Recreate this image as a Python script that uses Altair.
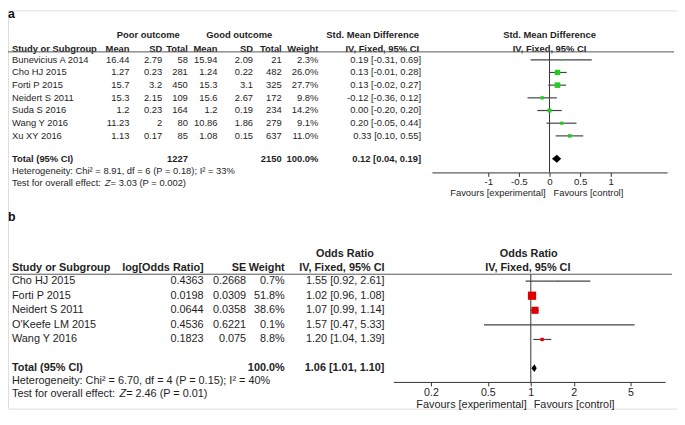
import altair as alt
import pandas as pd

FONT = "Liberation Sans, Arial, Helvetica, sans-serif"
TXT = "#1e1e1e"

# ---------------- Panel a data ----------------
a_study = ["Bunevicius A 2014", "Cho HJ 2015", "Forti P 2015", "Neidert S 2011",
           "Suda S 2016", "Wang Y 2016", "Xu XY 2016"]
a_poor_mean = [16.44, 1.27, 15.7, 15.3, 1.2, 11.23, 1.13]
a_poor_sd = [2.79, 0.23, 3.2, 2.15, 0.23, 2, 0.17]
a_poor_total = [58, 281, 450, 109, 164, 80, 85]
a_good_mean = [15.94, 1.24, 15.3, 15.6, 1.2, 10.86, 1.08]
a_good_sd = [2.09, 0.22, 3.1, 2.67, 0.19, 1.86, 0.15]
a_good_total = [21, 482, 325, 172, 234, 279, 637]
a_weight = [2.3, 26.0, 27.7, 9.8, 14.2, 9.1, 11.0]
a_smd = [0.19, 0.13, 0.13, -0.12, 0.00, 0.20, 0.33]
a_lo = [-0.31, -0.01, -0.02, -0.36, -0.20, -0.05, 0.10]
a_hi = [0.69, 0.28, 0.27, 0.12, 0.20, 0.44, 0.55]
a_totals = [1227, 2150]
a_total_ci = [0.12, 0.04, 0.19]
a_het = "Heterogeneity: Chi\u00b2 = 8.91, df = 6 (P = 0.18); I\u00b2 = 33%"
a_test = ["Test for overall effect: ", "Z", " = 3.03 (P = 0.002)"]
a_ticks = [-1, -0.5, 0, 0.5, 1]

# ---------------- Panel b data ----------------
b_study = ["Cho HJ 2015", "Forti P 2015", "Neidert S 2011", "O'Keefe LM 2015", "Wang Y 2016"]
b_logor = ["0.4363", "0.0198", "0.0644", "0.4536", "0.1823"]
b_se = ["0.2668", "0.0309", "0.0358", "0.6221", "0.075"]
b_weight = [0.7, 51.8, 38.6, 0.1, 8.8]
b_or = [1.55, 1.02, 1.07, 1.57, 1.20]
b_lo = [0.92, 0.96, 0.99, 0.47, 1.04]
b_hi = [2.61, 1.08, 1.14, 5.33, 1.39]
b_total_ci = [1.06, 1.01, 1.10]
b_het = "Heterogeneity: Chi\u00b2 = 6.70, df = 4 (P = 0.15); I\u00b2 = 40%"
b_test = ["Test for overall effect: ", "Z", " = 2.46 (P = 0.01)"]
b_ticks = [0.2, 0.5, 1, 2, 5]

# ---------------- layout (styles) ----------------
W, H = 677, 403
ONE = pd.DataFrame({"_": [0]})


def label(txt, x, y, size, align="left", weight="normal", style="normal", color=TXT):
    return alt.Chart(ONE).mark_text(
        text=txt, align=align, baseline="middle", font=FONT, fontSize=size,
        fontWeight=weight, fontStyle=style, color=color
    ).encode(x=alt.value(x), y=alt.value(y))


def hline(x1, x2, y):
    return alt.Chart(ONE).mark_rule(color="#555555", strokeWidth=1).encode(
        x=alt.value(x1), x2=alt.value(x2), y=alt.value(y))


def ci_str(e, l, h):
    return f"{e:.2f} [{l:.2f}, {h:.2f}]"


def col(df, field, x, yscale, size, align="right", weight="normal"):
    return alt.Chart(df).mark_text(
        align=align, baseline="middle", font=FONT, fontSize=size, fontWeight=weight, color=TXT
    ).encode(x=alt.value(x), y=alt.Y("row:Q", scale=yscale, axis=None), text=f"{field}:N")


def panel(cfg):
    fs = cfg["fs"]
    YS = alt.Scale(domain=cfg["ydom"], range=cfg["yrange"], nice=False, zero=False)
    XS = cfg["xscale"]
    AX = alt.Axis(orient="bottom", offset=cfg["axis_y"] - H, values=cfg["ticks"],
                  labelExpr="'' + datum.value", title=None, grid=False,
                  tickSize=4, labelPadding=cfg["lpad"], labelFont=FONT,
                  labelFontSize=cfg["tfs"], labelColor=TXT, domainColor="#333333",
                  tickColor="#333333", labelFlush=False, labelOverlap=False)
    df = cfg["df"]
    layers = []
    for (t, x, y, al, wt) in cfg["headers"]:
        layers.append(label(t, x, y, fs, align=al, weight=wt))
    layers.append(label(cfg["tag"], 0, cfg["tag_y"], 12.5, weight="bold", color="#111111"))
    layers.append(hline(cfg["line_x"][0], cfg["line_x"][1], cfg["line_y"]))
    for (field, x, al) in cfg["cols"]:
        layers.append(col(df, field, x, YS, fs, align=al))
    tot = cfg["tot_df"]
    for (field, x, al) in cfg["tot_cols"]:
        layers.append(col(tot, field, x, YS, fs, align=al, weight="bold"))
    layers.append(label(cfg["het"], 4, cfg["het_y"], fs))
    t0, tz, t1 = cfg["test"]
    w0 = 9.893 * fs
    wz = 0.611 * fs
    layers.append(label(t0, 4, cfg["test_y"], fs))
    layers.append(label(tz, 4 + w0, cfg["test_y"], fs, style="italic"))
    layers.append(label(t1, 4 + w0 + wz, cfg["test_y"], fs))
    layers.append(label("Favours [experimental]", cfg["fav_x"][0], cfg["fav_y"], fs, align="right"))
    layers.append(label("Favours [control]", cfg["fav_x"][1], cfg["fav_y"], fs, align="left"))
    layers.append(alt.Chart(ONE).mark_rule(color="#333333", strokeWidth=1).encode(
        x=alt.XDatum(cfg["null"], type="quantitative", scale=XS, axis=AX),
        y=alt.value(cfg["line_y"]), y2=alt.value(cfg["axis_y"])))
    layers.append(alt.Chart(df).mark_rule(color="#444444", strokeWidth=1.2).encode(
        x=alt.X("lo:Q", scale=XS, axis=AX), x2="hi:Q",
        y=alt.Y("row:Q", scale=YS, axis=None)))
    layers.append(alt.Chart(df).mark_square(color=cfg["color"], opacity=1).encode(
        x=alt.X("est:Q", scale=XS, axis=AX),
        y=alt.Y("row:Q", scale=YS, axis=None),
        size=alt.Size("w:Q", scale=alt.Scale(domain=[0, 100], range=[0, cfg["sq"]]), legend=None)))
    layers.append(alt.Chart(cfg["dia_df"]).transform_calculate(
        ytop=f"datum.row - {cfg['dia_h']} * datum.k",
        ybot=f"datum.row + {cfg['dia_h']} * datum.k",
    ).mark_area(color="black", orient="vertical").encode(
        x=alt.X("x:Q", scale=XS, axis=AX),
        y=alt.Y("ytop:Q", scale=YS, axis=None), y2="ybot:Q"))
    return alt.layer(*layers)


# ---------------- data frames ----------------
A_TOTAL_ROW = 7.8
dfa = pd.DataFrame({
    "row": list(range(len(a_study))),
    "study": a_study,
    "m1": [str(v) for v in a_poor_mean],
    "s1": [str(v) for v in a_poor_sd],
    "n1": [str(v) for v in a_poor_total],
    "m2": [str(v) for v in a_good_mean],
    "s2": [str(v) for v in a_good_sd],
    "n2": [str(v) for v in a_good_total],
    "wt": [f"{v:.1f}%" for v in a_weight],
    "ci": [ci_str(e, l, h) for e, l, h in zip(a_smd, a_lo, a_hi)],
    "est": a_smd, "lo": a_lo, "hi": a_hi, "w": a_weight,
})
tota = pd.DataFrame({
    "row": [A_TOTAL_ROW], "study": ["Total (95% CI)"],
    "n1": [str(a_totals[0])], "n2": [str(a_totals[1])], "wt": ["100.0%"],
    "ci": [ci_str(*a_total_ci)],
})
diaa = pd.DataFrame({"row": [A_TOTAL_ROW] * 3,
                     "x": [a_total_ci[1], a_total_ci[0], a_total_ci[2]], "k": [0, 1, 0]})

B_TOTAL_ROW = 5.97
dfb = pd.DataFrame({
    "row": list(range(len(b_study))),
    "study": b_study, "lor": b_logor, "se": b_se,
    "wt": [f"{v:.1f}%" for v in b_weight],
    "ci": [ci_str(e, l, h) for e, l, h in zip(b_or, b_lo, b_hi)],
    "est": b_or, "lo": b_lo, "hi": b_hi, "w": b_weight,
})
totb = pd.DataFrame({"row": [B_TOTAL_ROW], "study": ["Total (95% CI)"], "wt": ["100.0%"],
                     "ci": [ci_str(*b_total_ci)]})
diab = pd.DataFrame({"row": [B_TOTAL_ROW] * 3,
                     "x": [b_total_ci[1], b_total_ci[0], b_total_ci[2]], "k": [0, 1, 0]})

# ---------------- panel configs ----------------
A_COLS = dict(m1=123, s1=156, n1=182, m2=212, s2=248, n2=277, wt=314, ci=418)
cfg_a = dict(
    fs=9.5, tfs=9.8, df=dfa, tot_df=tota, dia_df=diaa, tag="a", tag_y=4,
    ydom=[0, 6], yrange=[50, 127],
    xscale=alt.Scale(type="linear", domain=[-1.92, 1.92], range=[429, 667], nice=False, zero=False),
    ticks=a_ticks, axis_y=164, lpad=0, null=0,
    headers=[("Poor outcome", 142, 25, "center", "bold"),
             ("Good outcome", 234, 25, "center", "bold"),
             ("Std. Mean Difference", 416, 25, "right", "bold"),
             ("Std. Mean Difference", 548, 25, "center", "bold"),
             ("Study or Subgroup", 4, 39, "left", "bold"),
             ("Mean", A_COLS["m1"], 39, "right", "bold"), ("SD", A_COLS["s1"], 39, "right", "bold"),
             ("Total", A_COLS["n1"], 39, "right", "bold"), ("Mean", A_COLS["m2"], 39, "right", "bold"),
             ("SD", A_COLS["s2"], 39, "right", "bold"), ("Total", A_COLS["n2"], 39, "right", "bold"),
             ("Weight", A_COLS["wt"], 39, "right", "bold"),
             ("IV, Fixed, 95% CI", 416, 39, "right", "bold"),
             ("IV, Fixed, 95% CI", 548, 39, "center", "bold")],
    line_x=[0, 674], line_y=42,
    cols=[("study", 4, "left")] + [(k, A_COLS[k], "right") for k in
                                   ["m1", "s1", "n1", "m2", "s2", "n2", "wt", "ci"]],
    tot_cols=[("study", 4, "left"), ("n1", A_COLS["n1"], "right"), ("n2", A_COLS["n2"], "right"),
              ("wt", A_COLS["wt"], "right"), ("ci", A_COLS["ci"], "right")],
    het=a_het, het_y=163, test=a_test, test_y=175,
    fav_x=[544, 552], fav_y=185, color="#22cc22", sq=115, dia_h=0.31,
)

B_COLS = dict(lor=198, se=241, wt=280, ci=381)
cfg_b = dict(
    fs=11, tfs=10.8, df=dfb, tot_df=totb, dia_df=diab, tag="b", tag_y=209,
    ydom=[0, 4], yrange=[274, 333],
    xscale=alt.Scale(type="log", domain=[0.109, 8.73], range=[390, 665], nice=False),
    ticks=b_ticks, axis_y=376, lpad=1, null=1,
    headers=[("Odds Ratio", 341, 247, "center", "bold"),
             ("Odds Ratio", 527, 247, "center", "bold"),
             ("Study or Subgroup", 4, 261, "left", "bold"),
             ("log[Odds Ratio]", B_COLS["lor"], 261, "right", "bold"),
             ("SE", B_COLS["se"], 261, "right", "bold"),
             ("Weight", B_COLS["wt"], 261, "right", "bold"),
             ("IV, Fixed, 95% CI", B_COLS["ci"], 261, "right", "bold"),
             ("IV, Fixed, 95% CI", 526, 261, "center", "bold")],
    line_x=[2, 672], line_y=267,
    cols=[("study", 4, "left")] + [(k, B_COLS[k], "right") for k in ["lor", "se", "wt", "ci"]],
    tot_cols=[("study", 4, "left"), ("wt", B_COLS["wt"], "right"), ("ci", B_COLS["ci"], "right")],
    het=b_het, het_y=375, test=b_test, test_y=388,
    fav_x=[525, 532], fav_y=399.5, color="#dd0000", sq=135, dia_h=0.27,
)

chart = alt.layer(panel(cfg_a), panel(cfg_b)).resolve_scale(
    x="independent", y="independent", size="independent"
).properties(
    width=W, height=H, padding=0,
    autosize=alt.AutoSizeParams(type="none"),
).configure_view(stroke=None).configure(background="white")

chart.save("out.html", embed_options={"renderer": "svg", "actions": False})
